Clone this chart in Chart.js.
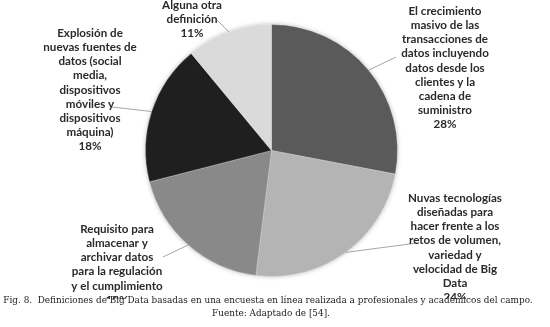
<!DOCTYPE html>
<html>
<head>
<meta charset="utf-8">
<script src="https://cdn.jsdelivr.net/npm/chart.js@4"></script>
<style>
  html, body { margin: 0; padding: 0; background: #fff; }
  #wrap { width: 550px; height: 327px; }
</style>
</head>
<body>
<div id="wrap"><canvas id="pieChart" width="550" height="327"></canvas></div>
<script>
// categories (each split in lines as printed next to the pie)
const categories = [
    ['El crecimiento', 'masivo de las', 'transacciones de', 'datos incluyendo', 'datos desde los', 'clientes y la', 'cadena de', 'suministro'],
    ['Nuvas tecnologías', 'diseñadas para', 'hacer frente a los', 'retos de volumen,', 'variedad y', 'velocidad de Big', 'Data'],
    ['Requisito para', 'almacenar y', 'archivar datos', 'para la regulación', 'y el cumplimiento'],
    ['Explosión de', 'nuevas fuentes de', 'datos (social', 'media,', 'dispositivos', 'móviles y', 'dispositivos', 'máquina)'],
    ['Alguna otra', 'definición']
];
const values = [28, 24, 19, 18, 11];

const captionLines = [
    'Fig. 8.  Definiciones de Big Data basadas en una encuesta en línea realizada a profesionales y académicos del campo.',
    'Fuente: Adaptado de [54].'
];

const sliceColors = ['#5a5a5a', '#b4b4b4', '#898989', '#1f1f1f', '#dadada'];

// where each label block sits (x = center of text, y = first line), and where its leader ends
const labelLayout = [
    { x: 445, y: 11, ax: 396, ay: 57 },
    { x: 455, y: 198, ax: 417, ay: 243 },
    { x: 117, y: 229, ax: 163, ay: 257 },
    { x: 90, y: 33, ax: 112, ay: 107 },
    { x: 192, y: 5, ax: 217, ay: 20 }
];
const lineH = 14.2;

const labelPlugin = {
    id: 'calloutLabels',
    beforeDatasetsDraw(chart) {
        // soft glow behind the pie
        const arc = chart.getDatasetMeta(0).data[0];
        const ctx = chart.ctx;
        ctx.save();
        ctx.shadowColor = 'rgba(0,0,0,0.35)';
        ctx.shadowBlur = 5;
        ctx.fillStyle = '#888';
        ctx.beginPath();
        ctx.arc(arc.x, arc.y, arc.outerRadius - 0.5, 0, Math.PI * 2);
        ctx.fill();
        ctx.restore();
    },
    afterDraw(chart) {
        const ctx = chart.ctx;
        const arcs = chart.getDatasetMeta(0).data;
        ctx.save();

        arcs.forEach((arc, i) => {
            const lay = labelLayout[i];
            const mid = (arc.startAngle + arc.endAngle) / 2;
            const px = arc.x + Math.cos(mid) * arc.outerRadius;
            const py = arc.y + Math.sin(mid) * arc.outerRadius;

            ctx.strokeStyle = '#a6a6a6';
            ctx.lineWidth = 1;
            ctx.beginPath();
            ctx.moveTo(px, py);
            ctx.lineTo(lay.ax, lay.ay);
            ctx.stroke();

            const lines = categories[i].concat([values[i] + '%']);
            ctx.fillStyle = '#2a2a2a';
            ctx.font = 'bold 11.6px Lato';
            ctx.textAlign = 'center';
            ctx.textBaseline = 'middle';
            lines.forEach((t, k) => {
                ctx.fillText(t, lay.x, lay.y + k * lineH);
            });
        });

        // caption box covers the bottom of the chart
        ctx.fillStyle = '#fff';
        ctx.fillRect(0, 299, chart.width, chart.height - 299);

        ctx.fillStyle = '#222';
        ctx.textAlign = 'center';
        ctx.textBaseline = 'alphabetic';
        ctx.font = '10px "DejaVu Serif"';
        const w = ctx.measureText(captionLines[0]).width;
        const size = 10 * 530 / w;
        ctx.font = size.toFixed(2) + 'px "DejaVu Serif"';
        ctx.fillText(captionLines[0], 268, 303);
        ctx.fillText(captionLines[1], 271, 316);
        ctx.restore();
    }
};

new Chart(document.getElementById('pieChart'), {
    type: 'pie',
    data: {
        labels: categories,
        datasets: [{
            data: values,
            backgroundColor: sliceColors,
            borderColor: 'rgba(255,255,255,0.25)',
            borderWidth: 1
        }]
    },
    options: {
        responsive: false,
        animation: false,
        layout: {
            padding: { top: 24, bottom: 50, left: 145, right: 152 }
        },
        plugins: {
            legend: { display: false },
            tooltip: { enabled: false }
        }
    },
    plugins: [labelPlugin]
});
</script>
</body>
</html>
